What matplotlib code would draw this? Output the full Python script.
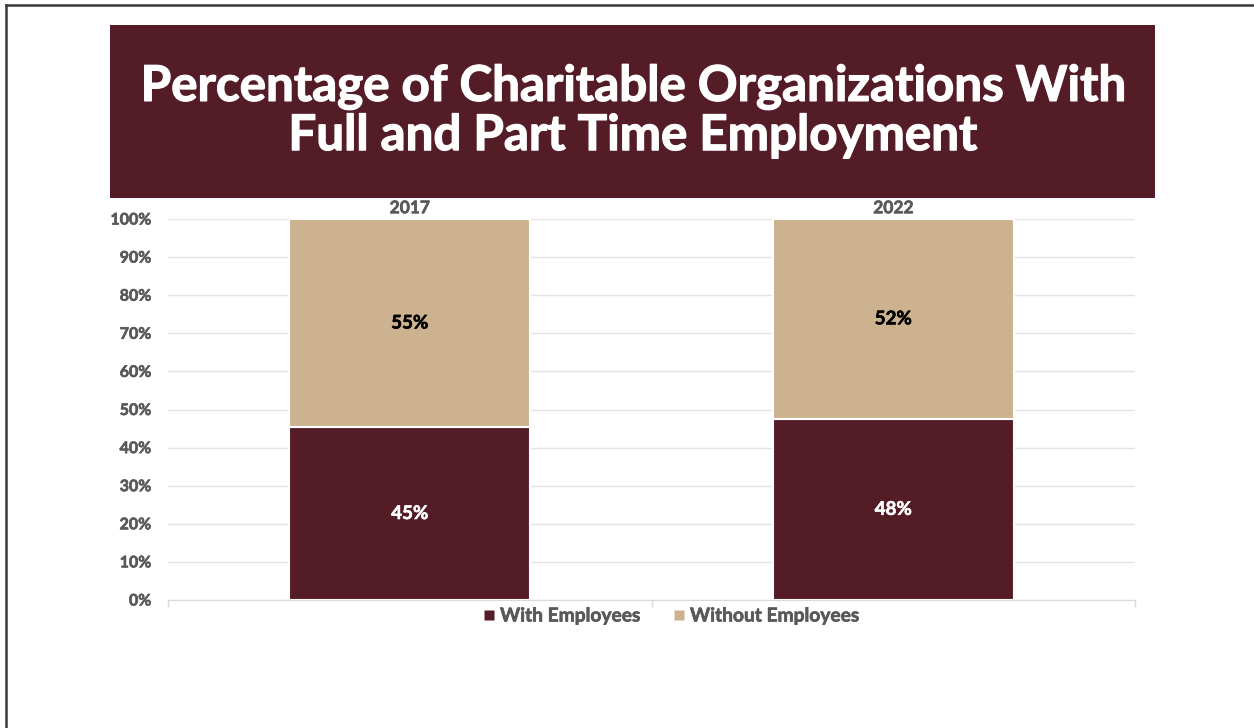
import matplotlib
matplotlib.use("Agg")
import matplotlib.pyplot as plt
from matplotlib.patches import Rectangle
from matplotlib.lines import Line2D
import matplotlib.patheffects as pe
import numpy as np

years = ["2017", "2022"]
with_emp = [45.4, 47.6]
without_emp = [54.6, 52.4]
series_names = ["With Employees", "Without Employees"]
yticks = [0, 10, 20, 30, 40, 50, 60, 70, 80, 90, 100]

maroon = "#541c26"
tan = "#cdb28f"
gray = "#595959"

plt.rcParams['font.family'] = ['Lato', 'DejaVu Sans']


def heavy(color, lw=0.45):
    # thicken the glyphs a little with a same-colour outline
    return [pe.withStroke(linewidth=lw, foreground=color)]


W, H = 1254, 728
fig = plt.figure(figsize=(W / 100, H / 100), dpi=100)

# slide frame (left and top edges only)
fig.add_artist(Line2D([6 / W, 6 / W], [0, 1 - 5 / H], color="#3a3a3a", lw=1.8))
fig.add_artist(Line2D([6 / W, 1], [1 - 5 / H, 1 - 5 / H], color="#3a3a3a", lw=1.8))

# title banner
fig.add_artist(Rectangle((110 / W, 1 - 198 / H), 1045 / W, 173 / H,
                         facecolor=maroon, edgecolor="none"))
fig.text(633 / W, 1 - 111 / H,
         "Percentage of Charitable Organizations With\nFull and Part Time Employment",
         ha="center", va="center", color="white", fontsize=35.5, fontweight="bold",
         linespacing=1.1, path_effects=heavy("white", 0.9))

ax = fig.add_axes([168 / W, 1 - 600 / H, (1135 - 168) / W, (600 - 219) / H])
x = np.arange(len(years))
w = 0.498
ax.bar(x, with_emp, width=w, color=maroon, edgecolor="white", linewidth=1.5, zorder=3)
ax.bar(x, without_emp, bottom=with_emp, width=w, color=tan, edgecolor="white",
       linewidth=1.5, zorder=3)

for i in range(len(years)):
    ax.text(x[i], with_emp[i] / 2, f"{with_emp[i]:.0f}%", ha="center", va="center",
            color="white", fontsize=13.5, fontweight="bold", zorder=4,
            path_effects=heavy("white"))
    ax.text(x[i], with_emp[i] + without_emp[i] / 2, f"{without_emp[i]:.0f}%",
            ha="center", va="center", color="black", fontsize=13.5,
            fontweight="bold", zorder=4, path_effects=heavy("black"))

ax.set_xlim(-0.5, 1.5)
ax.set_ylim(0, 100)
ax.set_yticks(yticks)
ax.set_yticklabels([f"{v}%" for v in yticks], fontweight="bold")
ax.tick_params(axis="y", length=0, pad=12, labelsize=11.5, labelcolor=gray)

# year labels on top, category boundary ticks on bottom
ax.xaxis.tick_top()
ax.set_xticks(x)
ax.set_xticklabels(years, fontweight="bold")
ax.tick_params(axis="x", which="major", length=0, pad=2, labelsize=12.5,
               labelcolor=gray)
ax.set_xticks([-0.5, 0.5, 1.5], minor=True)
ax.tick_params(axis="x", which="minor", bottom=True, top=False, length=5,
               color="#d9d9d9", width=1)
for lab in ax.get_yticklabels() + ax.get_xticklabels():
    lab.set_path_effects(heavy(gray))

ax.grid(axis="y", color="#e3e3e3", linewidth=1, zorder=0)
for s in ["top", "left", "right"]:
    ax.spines[s].set_visible(False)
ax.spines["bottom"].set_color("#d9d9d9")
ax.spines["bottom"].set_zorder(5)

handles = [Line2D([], [], marker="s", linestyle="none", markersize=7,
                  markerfacecolor=c, markeredgecolor="none")
           for c in (maroon, tan)]
leg = fig.legend(handles, series_names, loc="center",
                 bbox_to_anchor=(670 / W, 1 - 616 / H), ncol=2, frameon=False,
                 handletextpad=0.2, columnspacing=1.6, handlelength=0.8,
                 prop={"weight": "bold", "size": 13.8})
for t in leg.get_texts():
    t.set_color(gray)
    t.set_path_effects(heavy(gray))

fig.savefig("out.png", dpi=100, facecolor="white")
